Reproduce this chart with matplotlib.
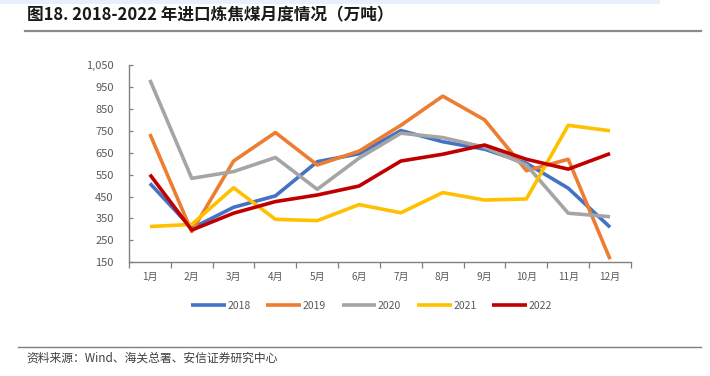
import matplotlib.pyplot as plt
from matplotlib.ticker import FuncFormatter, FixedLocator
from matplotlib.lines import Line2D
from matplotlib.patches import Rectangle

plt.rcParams['font.family'] = ['Noto Sans CJK SC', 'DejaVu Sans']

# 月份
meses = ["1月", "2月", "3月", "4月", "5月", "6月", "7月", "8月", "9月", "10月", "11月", "12月"]

# 各年进口炼焦煤（万吨）
v2018 = [510, 305, 401, 453, 609, 645, 751, 700, 666, 602, 488, 310]
v2019 = [735, 290, 612, 742, 594, 657, 775, 908, 800, 568, 620, 164]
v2020 = [982, 533, 564, 628, 483, 625, 739, 719, 675, 594, 374, 358]
v2021 = [313, 323, 490, 346, 340, 413, 376, 468, 434, 439, 775, 750]
v2022 = [550, 297, 374, 427, 457, 498, 612, 643, 685, 620, 575, 646]

series = [("2018", v2018, "#4472C4"), ("2019", v2019, "#ED7D31"),
          ("2020", v2020, "#A5A5A5"), ("2021", v2021, "#FFC000"),
          ("2022", v2022, "#C00000")]

fig = plt.figure(figsize=(7.1, 3.76), dpi=100)
ax = fig.add_axes([0.1817, 0.3024, 0.707, 0.5247])

x = list(range(len(meses)))
for nombre, vals, color in series:
    ax.plot(x, vals, color=color, lw=2.6, label=nombre, solid_capstyle='butt')

ax.set_xlim(-0.5, 11.5)
ax.set_ylim(150, 1050)
ax.set_yticks(range(150, 1051, 100))
ax.yaxis.set_major_formatter(FuncFormatter(lambda v, p: f"{int(v):,}"))

ax.xaxis.set_major_locator(FixedLocator([i - 0.5 for i in range(13)]))
ax.xaxis.set_major_formatter(FuncFormatter(lambda v, p: ""))
ax.xaxis.set_minor_locator(FixedLocator(x))
ax.set_xticklabels(meses, minor=True)
ax.tick_params(axis='x', which='minor', length=0, pad=7, labelsize=7.2, labelcolor='#595959')
ax.tick_params(axis='x', which='major', length=4, color='#808080', width=0.9)
ax.tick_params(axis='y', direction='in', length=3, color='#808080', width=0.9,
               labelsize=8, labelcolor='#595959', pad=11)

for s in ['top', 'right']:
    ax.spines[s].set_visible(False)
for s in ['left', 'bottom']:
    ax.spines[s].set_color('#808080')
    ax.spines[s].set_linewidth(1.0)

ax.legend(loc='center', bbox_to_anchor=(0.483, -0.222), ncol=5, frameon=False,
          fontsize=7.5, handlelength=3.3, handletextpad=0.15, columnspacing=1.55,
          labelcolor='#595959')

# 顶部浅蓝色条
fig.add_artist(Rectangle((0, 0.99), 0.93, 0.01, transform=fig.transFigure,
                         color='#e9f0fb', lw=0))

# 标题和分隔线
fig.text(0.038, 0.958, "图18. 2018-2022 年进口炼焦煤月度情况（万吨）", fontsize=12,
         fontweight='bold', color='#1a1a1a', va='center', ha='left')
fig.add_artist(Line2D([0.035, 0.987], [0.918, 0.918], color='#8c8c8c', lw=1.6))
fig.add_artist(Line2D([0.025, 0.987], [0.077, 0.077], color='#7f7f7f', lw=1.0))
fig.text(0.037, 0.048, "资料来源：Wind、海关总署、安信证券研究中心", fontsize=8.5,
         color='#404040', va='center', ha='left', style='italic')

fig.savefig("out.png", dpi=100)
